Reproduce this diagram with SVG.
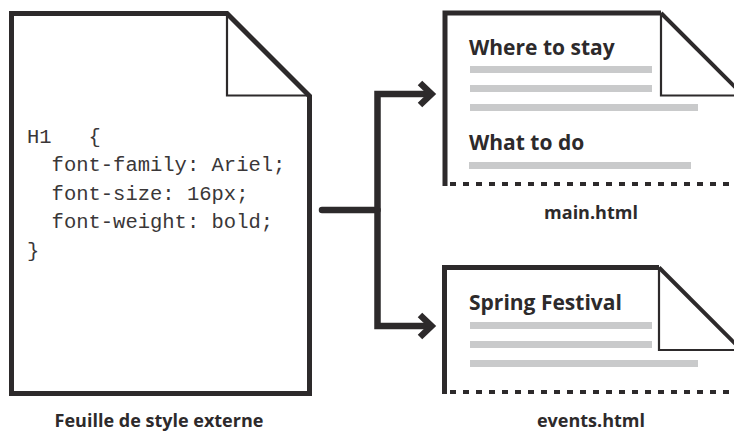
<svg xmlns="http://www.w3.org/2000/svg" width="734" height="431" viewBox="0 0 734 431">
<style>
.doc{fill:#fff;stroke:#2d2a2b;stroke-width:5;stroke-linejoin:miter}
.fold{fill:none;stroke:#2d2a2b;stroke-width:2.2}
.diag{fill:none;stroke:#2d2a2b;stroke-width:4}
.dash{fill:none;stroke:#2d2a2b;stroke-width:4;stroke-dasharray:6 7}
.bar{fill:#c9cacb}
.code{font-family:"Liberation Mono","Courier New",monospace;font-size:20.5px;fill:#3a3738;white-space:pre}
.head{font-family:"Open Sans","Noto Sans",sans-serif;font-weight:700;font-size:21px;fill:#2d2a2b}
.lbl{font-family:"Open Sans","Noto Sans",sans-serif;font-weight:700;font-size:18px;fill:#2d2a2b;text-anchor:middle}
.conn{fill:none;stroke:#2d2a2b;stroke-width:6.5}
</style>
<g id="stylesheet">
<path class="doc" d="M11.5,393.5 V13.5 H227 L309.5,96 V393.5 Z"/>
<path class="fold" d="M227,13.5 V95.5 H309.5"/>
<text class="code" x="27" y="142.5" xml:space="preserve">H1   {</text>
<text class="code" x="27" y="171" xml:space="preserve">  font-family: Ariel;</text>
<text class="code" x="27" y="199.5" xml:space="preserve">  font-size: 16px;</text>
<text class="code" x="27" y="228" xml:space="preserve">  font-weight: bold;</text>
<text class="code" x="27" y="256.5" xml:space="preserve">}</text>
<text class="lbl" x="159" y="427">Feuille de style externe</text>
</g>
<g id="main">
<path d="M445,186 V13 H661 L745,97 V186 Z" fill="#fff"/>
<path class="doc" d="M445,186 V13 H661" fill="none"/>
<path class="diag" d="M661,13 L745,97"/>
<path class="fold" d="M661,13 V95.5 H734"/>
<path class="dash" d="M450,184 H734"/>
<text class="head" x="469" y="55">Where to stay</text>
<rect class="bar" x="470" y="66" width="182" height="7"/>
<rect class="bar" x="470" y="85" width="182" height="7"/>
<rect class="bar" x="470" y="104" width="228" height="7"/>
<text class="head" x="469" y="150">What to do</text>
<rect class="bar" x="469" y="162" width="222" height="7"/>
<text class="lbl" x="591" y="219">main.html</text>
</g>
<g id="events">
<path d="M444.5,394 V267.5 H659 L745,353.5 V394 Z" fill="#fff"/>
<path class="doc" d="M444.5,394 V267.5 H659" fill="none"/>
<path class="diag" d="M659,267.5 L745,353.5"/>
<path class="fold" d="M659,267.5 V350 H734"/>
<path class="dash" d="M450,392 H734"/>
<text class="head" x="469" y="310">Spring Festival</text>
<rect class="bar" x="470" y="322" width="182" height="7"/>
<rect class="bar" x="470" y="341" width="182" height="7"/>
<rect class="bar" x="470" y="360" width="228" height="7"/>
<text class="lbl" x="591" y="427">events.html</text>
</g>
<g id="connectors">
<path class="conn" d="M322,210 H377.5" stroke-linecap="round"/>
<path class="conn" d="M431,94 H377.5 V326 H431"/>
<path class="conn" d="M420,83 L431.5,94 L420,105"/>
<path class="conn" d="M420,315 L431.5,326 L420,337"/>
</g>
</svg>
